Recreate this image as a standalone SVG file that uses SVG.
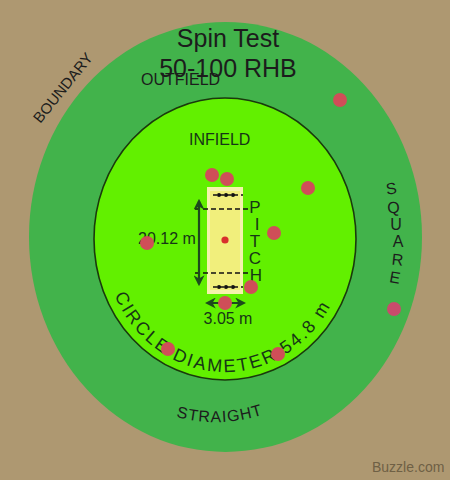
<svg xmlns="http://www.w3.org/2000/svg" width="450" height="480" viewBox="0 0 450 480">
<style>
text{font-family:"Liberation Sans",Arial,sans-serif}
.dk{fill:#163616}
.bl{fill:#1c1c1c}
.dot{fill:#cf4e58}
.dash{stroke:#111;stroke-width:1.3;stroke-dasharray:5 3;fill:none}
.arr{stroke:#1c4a1c;stroke-width:2.2;fill:none;marker-start:url(#ah);marker-end:url(#ah)}
</style>
<defs>
<marker id="ah" viewBox="0 0 10 10" refX="8" refY="5" markerWidth="5" markerHeight="5" orient="auto-start-reverse" markerUnits="strokeWidth">
<path d="M0,0 L10,5 L0,10 L3,5 Z" fill="#1c4a1c"/>
</marker>
<path id="circ" d="M114.4,295.2 A122,133 0 0 0 332.7,301.4"/>
<path id="str" d="M176,417 Q222,429 268,413"/>
</defs>
<rect id="background" width="450" height="480" fill="#ae9871"/>
<g id="outfield">
<ellipse cx="225.5" cy="237" rx="196.5" ry="215" fill="#42b34b"/>
</g>
<g id="infield">
<ellipse cx="225" cy="239" rx="131" ry="141" fill="#62f000" stroke="#1a3a0c" stroke-width="1.6"/>
</g>
<g id="pitch">
<rect x="207" y="187" width="36" height="107" fill="#f5f3ac"/>
<rect x="210" y="191" width="30" height="99" fill="#f1ef7c"/>
<line class="dash" x1="213" y1="195" x2="243" y2="195" style="stroke-dasharray:4 3"/>
<line class="dash" x1="213" y1="287" x2="243" y2="287" style="stroke-dasharray:4 3"/>
<line class="dash" x1="195" y1="209" x2="249" y2="209"/>
<line class="dash" x1="195" y1="273" x2="249" y2="273"/>
<g fill="#111">
<circle cx="219" cy="195" r="2"/><circle cx="226" cy="195" r="2"/><circle cx="233" cy="195" r="2"/>
<circle cx="219" cy="287" r="2"/><circle cx="226" cy="287" r="2"/><circle cx="233" cy="287" r="2"/>
</g>
</g>
<g id="connectors">
<line class="arr" x1="199" y1="201" x2="199" y2="284"/>
<line class="arr" x1="207" y1="303" x2="244" y2="303"/>
</g>
<g id="labels">
<text x="228" y="47" font-size="25" text-anchor="middle" class="bl">Spin Test</text>
<text x="228" y="77" font-size="25" text-anchor="middle" class="bl">50-100 RHB</text>
<text x="141" y="85" font-size="16" class="bl">OUTFIELD</text>
<text x="189" y="145" font-size="16" class="dk">INFIELD</text>
<text x="67" y="91" font-size="15" text-anchor="middle" class="bl" transform="rotate(-51 67 91)">BOUNDARY</text>
<text x="138" y="244" font-size="16" class="dk">20.12 m</text>
<text x="228" y="324" font-size="16" text-anchor="middle" class="dk">3.05 m</text>
<g font-size="17" text-anchor="middle" class="dk">
<text x="255" y="213">P</text>
<text x="257" y="230">I</text>
<text x="255" y="247">T</text>
<text x="255" y="264">C</text>
<text x="256" y="281">H</text>
</g>
<g font-size="16" text-anchor="middle" class="bl">
<text x="392" y="194" transform="rotate(-8 392 194)">S</text>
<text x="394" y="213" transform="rotate(-5 394 213)">Q</text>
<text x="396" y="230">U</text>
<text x="398" y="247">A</text>
<text x="397" y="265" transform="rotate(6 397 265)">R</text>
<text x="394" y="283" transform="rotate(10 394 283)">E</text>
</g>
<text font-size="18" class="dk" letter-spacing="2.3"><textPath href="#circ">CIRCLE DIAMETER 54.8 m</textPath></text>
<text font-size="16" class="bl" letter-spacing="1"><textPath href="#str">STRAIGHT</textPath></text>
<text x="372" y="472" font-size="14" fill="#6f6045">Buzzle.com</text>
</g>
<g id="fielders">
<circle class="dot" cx="212" cy="175" r="7"/>
<circle class="dot" cx="227" cy="179" r="7"/>
<circle class="dot" cx="147" cy="243" r="7"/>
<circle class="dot" cx="274" cy="233" r="7"/>
<circle cx="225" cy="240" r="3.6" fill="#d8302c"/>
<circle class="dot" cx="251" cy="287" r="7"/>
<circle class="dot" cx="225" cy="303" r="7"/>
<circle class="dot" cx="308" cy="188" r="7"/>
<circle class="dot" cx="340" cy="100" r="7"/>
<circle class="dot" cx="394" cy="309" r="7" style="fill:#c94b6c"/>
<circle class="dot" cx="168" cy="349" r="7"/>
<circle class="dot" cx="278" cy="354" r="7"/>
</g>
</svg>
